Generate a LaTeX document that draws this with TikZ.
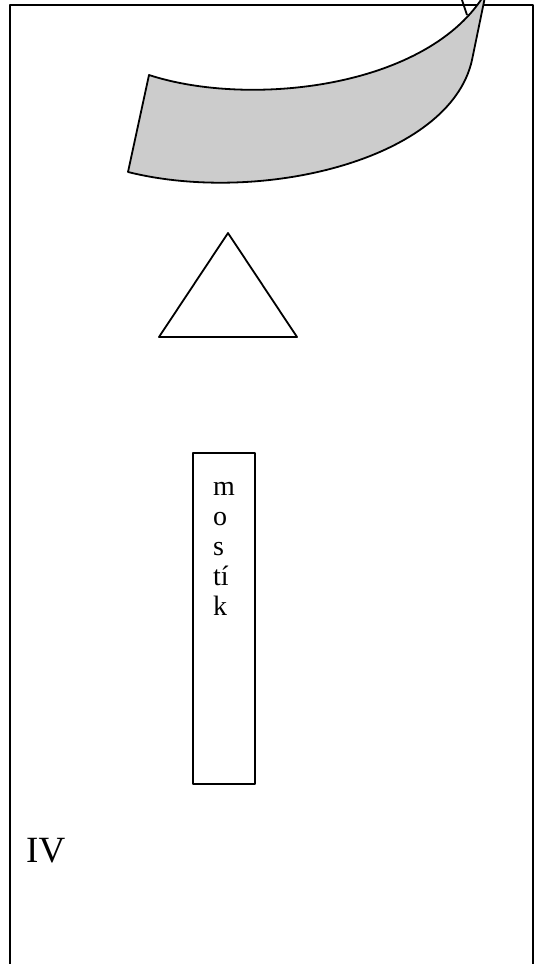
\documentclass[tikz,border=0pt]{standalone}
\usepackage{fontspec}
\setmainfont{Liberation Serif}
\usetikzlibrary{positioning}

\begin{document}
\begin{tikzpicture}[x=1pt, y=-1pt,
        outline/.style={draw=black, line width=1.8pt, line join=round},
        strip/.style={outline, fill=black!20},
        caption/.style={inner sep=0pt, anchor=base west, align=left}
    ]
        \useasboundingbox (0,0) rectangle (537,964);
        \clip (0,0) rectangle (537,964);

        % Frame (open at the bottom)
        \draw[outline] (10,970) -- (10,5) -- (533,5) -- (533,970);

        % Curled strip
        \coordinate (tl) at (149,75);
        \coordinate (tr) at (486,-8);
        \coordinate (br) at (472,60);
        \coordinate (bl) at (128,172);
        \draw[outline] (460,-6) -- (467,15);
        \filldraw[strip] (tl) .. controls (250,108) and (430,88) .. (tr)
            -- (br) .. controls (450,160) and (260,205) .. (bl) -- cycle;

        % Triangle
        \draw[outline] (159,337) -- (228,233) -- (297,337) -- cycle;

        % Bridge
        \draw[outline] (193,453) rectangle (255,784);
        \node[caption, font=\fontsize{28}{30}\selectfont] (mostik) at (213,615) {m\\o\\s\\tí\\k};

        % Label
        \node[caption, font=\fontsize{37}{40}\selectfont] (four) at (26,862) {IV};
    \end{tikzpicture}
\end{document}
